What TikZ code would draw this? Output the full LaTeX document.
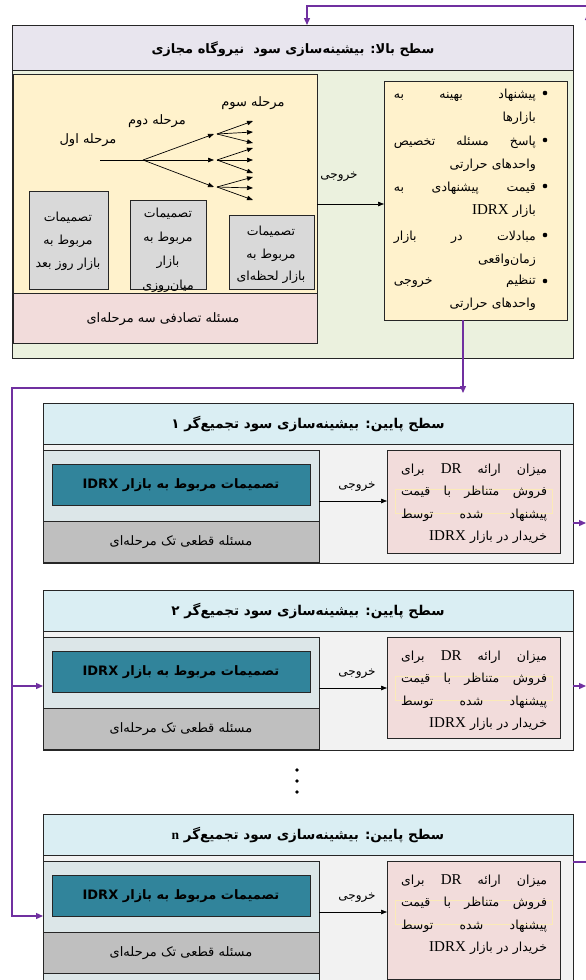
\documentclass[tikz,border=0pt]{standalone}
\usepackage{fontspec}
\setmainfont{Liberation Serif}
\newfontfamily\fa[Script=Arabic]{DejaVu Sans}
\TeXXeTstate=1
\usetikzlibrary{arrows.meta}
\definecolor{hdrlav}{HTML}{E8E5EE}
\definecolor{bodygreen}{HTML}{EBF1DE}
\definecolor{paleyellow}{HTML}{FFF2CC}
\definecolor{palepink}{HTML}{F2DCDB}
\definecolor{lightgray}{HTML}{D9D9D9}
\definecolor{hdrblue}{HTML}{DAEEF3}
\definecolor{bodygray}{HTML}{F2F2F2}
\definecolor{innerblue}{HTML}{DCE6E8}
\definecolor{tealbox}{HTML}{31849B}
\definecolor{midgray}{HTML}{BFBFBF}
\definecolor{vpurple}{HTML}{7030A0}
\definecolor{faintyellow}{HTML}{FBEAB8}
\newcommand{\lat}[1]{\beginL #1\endL}
\newcommand{\jline}[2]{\leavevmode\hbox to #1{#2}}
\newcommand{\latbig}[1]{{\rmfamily\fontsize{15}{15}\selectfont #1}}
\tikzset{
  rbox/.style={draw=black!85, line width=0.8pt, inner sep=0pt, outer sep=0pt, anchor=north west},
  fatxt/.style={font=\fa\fontsize{13}{15}\selectfont, inner sep=0pt, align=center},
  fabold/.style={font=\fa\bfseries\fontsize{13.5}{15}\selectfont, inner sep=0pt},
  blk/.style={draw=black, line width=0.7pt, -{Triangle[length=6pt,width=4.5pt]}},
  treeline/.style={draw=black, line width=0.7pt},
  vp/.style={draw=vpurple, line width=1.3pt},
  vparr/.style={vp, -{Triangle[length=7pt,width=6pt]}},
}
\begin{document}
\begin{tikzpicture}[x=1pt,y=-1pt]
\useasboundingbox (0,0) rectangle (586,980);
\clip (0,0) rectangle (586,980);
% ---------- top level ----------
\node[rbox, fill=bodygreen, minimum width=561pt, minimum height=333pt] (topbox) at (12,25) {};
\node[rbox, fill=hdrlav, minimum width=561pt, minimum height=45pt] (tophead) at (12,25) {};
\node[fabold, font=\fa\bfseries\fontsize{13}{15}\selectfont] (toptitle) at (293,49) {\beginR سطح بالا: بیشینه‌سازی سود\ \ نیروگاه مجازی\endR};
\node[rbox, fill=paleyellow, minimum width=304pt, minimum height=219pt] (ypanel) at (13,74) {};
\node[rbox, fill=palepink, minimum width=304pt, minimum height=50pt] (ppanel) at (13,293) {};
\node[fatxt] (ptext) at (163,319) {\beginR مسئله تصادفی سه مرحله‌ای\endR};
% gray decision boxes
\node[rbox, fill=lightgray, minimum width=79pt, minimum height=98pt] (g1) at (29,191) {};
\node[rbox, fill=lightgray, minimum width=76pt, minimum height=89pt] (g2) at (130,200) {};
\node[rbox, fill=lightgray, minimum width=85pt, minimum height=74pt] (g3) at (229,215) {};
\node[fatxt, font=\fa\fontsize{12.5}{23}\selectfont] (g1t) at (68,241) {\beginR تصمیمات\endR\\\beginR مربوط به\endR\\\beginR بازار روز بعد\endR};
\node[fatxt, font=\fa\fontsize{12.5}{24}\selectfont] (g2t) at (168,250) {\beginR تصمیمات\endR\\\beginR مربوط به\endR\\\beginR بازار\endR\\\beginR میان‌روزی\endR};
\node[fatxt, font=\fa\fontsize{12.5}{22.5}\selectfont] (g3t) at (271,255) {\beginR تصمیمات\endR\\\beginR مربوط به\endR\\\beginR بازار لحظه‌ای\endR};
% scenario tree
\coordinate (t0) at (100,160);
\coordinate (t1) at (143,160);
\coordinate (s1) at (214,134);
\coordinate (s2) at (214,160);
\coordinate (s3) at (214,187);
\draw[treeline] (t0) -- (t1);
\foreach \s in {s1,s2,s3} \draw[blk] (t1) -- (\s);
\foreach \s/\a/\b/\c in {s1/121/132/143, s2/148/160/173, s3/177/188/200}{
  \coordinate (\s a) at (253,\a);
  \coordinate (\s b) at (253,\b);
  \coordinate (\s c) at (253,\c);
  \draw[blk] ([xshift=3pt]\s) -- (\s a);
  \draw[blk] ([xshift=3pt]\s) -- (\s b);
  \draw[blk] ([xshift=3pt]\s) -- (\s c);
}
\node[fatxt] (st1) at (88,140) {\beginR مرحله اول\endR};
\node[fatxt] (st2) at (157,121) {\beginR مرحله دوم\endR};
\node[fatxt] (st3) at (253,103) {\beginR مرحله سوم\endR};
% output bullets
\node[rbox, fill=paleyellow, minimum width=183pt, minimum height=239pt] (bul) at (384,81) {};
\coordinate (outy) at (0,204);
\draw[blk] (ypanel.east |- outy) -- (bul.west |- outy);
\node[fatxt, font=\fa\fontsize{12}{14}\selectfont] (outlbl) at (339,177) {\beginR خروجی\endR};
\foreach \y in {93,140,186,235,281} \fill (545,\y) circle (2.3pt);
\tikzset{item/.style={inner sep=0pt, anchor=north east, text width=142pt, align=right, font=\fa\fontsize{12.5}{23}\selectfont}}
\node[item] (i1) at (536,89) {\jline{142pt}{\beginR پیشنهاد\hfill بهینه\hfill به\endR}\\\beginR بازارها\endR};
\node[item] (i2) at (536,136) {\jline{142pt}{\beginR پاسخ\hfill مسئله\hfill تخصیص\endR}\\\beginR واحدهای حرارتی\endR};
\node[item] (i3) at (536,182) {\jline{142pt}{\beginR قیمت\hfill پیشنهادی\hfill به\endR}\\\beginR بازار \lat{\latbig{IDRX}}\endR};
\node[item] (i4) at (536,231) {\jline{142pt}{\beginR مبادلات\hfill در\hfill بازار\endR}\\\beginR زمان‌واقعی\endR};
\node[item] (i5) at (536,275) {\jline{142pt}{\beginR تنظیم\hfill خروجی\endR}\\\beginR واحدهای حرارتی\endR};
% ---------- lower level boxes ----------
\foreach \nm/\T/\lab/\bh/\ph in {a/403/{۱}/119/103, b/590/{۲}/119/101, c/814/{\lat{\rmfamily n}}/180/118}{
  \node[rbox, fill=bodygray, minimum width=530pt, minimum height=\bh pt] (\nm body) at (43,\T+41) {};
  \node[rbox, fill=hdrblue, minimum width=530pt, minimum height=41pt] (\nm head) at (43,\T) {};
  \node[fabold] (\nm title) at (308,\T+21) {\beginR سطح پایین: بیشینه‌سازی سود تجمیع‌گر \lab\endR};
  \node[rbox, fill=innerblue, minimum width=276pt, minimum height=\bh pt-6pt] (\nm inner) at (43,\T+47) {};
  \node[rbox, fill=tealbox, minimum width=258pt, minimum height=41pt] (\nm teal) at (52,\T+61) {};
  \node[fabold, font=\fa\bfseries\fontsize{13}{15}\selectfont] (\nm tealt) at (181,\T+82) {\beginR تصمیمات مربوط به بازار \lat{IDRX}\endR};
  \node[rbox, fill=midgray, minimum width=276pt, minimum height=41pt] (\nm gray) at (43,\T+118) {};
  \node[fatxt] (\nm grayt) at (181,\T+139) {\beginR مسئله قطعی تک مرحله‌ای\endR};
  \node[rbox, fill=palepink, minimum width=173pt, minimum height=\ph pt] (\nm pink) at (387,\T+47) {};
  \node[rbox, draw=faintyellow, line width=0.6pt, minimum width=157pt, minimum height=24pt] (\nm faint) at (395,\T+86) {};
  \node[inner sep=0pt, anchor=north, text width=146pt, align=right, font=\fa\fontsize{12.5}{22.5}\selectfont] (\nm pinkt) at (474,\T+60)
    {\jline{146pt}{\beginR میزان\hfill ارائه\hfill \lat{\latbig{DR}}\hfill برای\endR}\\\jline{146pt}{\beginR فروش\hfill متناظر\hfill با\hfill قیمت\endR}\\\jline{146pt}{\beginR پیشنهاد\hfill شده\hfill توسط\endR}\\\beginR خریدار در بازار \lat{\latbig{IDRX}}\endR};
  \coordinate (\nm out) at (0,\T+98);
  \draw[blk] (\nm inner.east |- \nm out) -- (\nm pink.west |- \nm out);
  \node[fatxt, font=\fa\fontsize{12}{14}\selectfont] (\nm outl) at (357,\T+84) {\beginR خروجی\endR};
}
% dots
\foreach \y in {770,781,792} \fill (297,\y) circle (1.8pt);
% ---------- purple connectors ----------
\coordinate (topL) at (307,6);
\coordinate (topR) at (592,6);
\draw[vparr] (topR) -- (topL) -- (topL |- tophead.north);
\coordinate (vtip) at (463,393);
\draw[vparr] (bul.south -| vtip) -- (vtip);
\coordinate (hj) at (463,388);
\coordinate (lc) at (12,388);
\coordinate (bin) at (43,686);
\coordinate (cin) at (43,916);
\draw[vparr] (hj) -- (lc) |- (cin);
\draw[vparr] (lc |- bin) -- (bin);
\coordinate (aR) at (586,523);
\coordinate (bR) at (586,686);
\coordinate (cR) at (588,862);
\draw[vparr] (abody.east |- aR) -- (aR);
\draw[vparr] (bbody.east |- bR) -- (bR);
\draw[vparr] (cbody.east |- cR) -- (cR) -- (588,13);
\end{tikzpicture}
\end{document}
